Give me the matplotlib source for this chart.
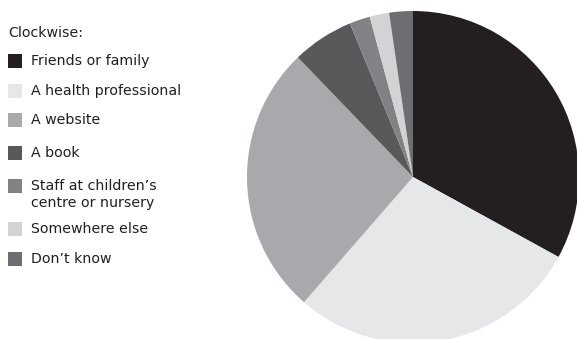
import matplotlib
matplotlib.use("Agg")
import matplotlib.pyplot as plt
from matplotlib.patches import Rectangle

# Share of responses, listed clockwise from 12 o'clock
categories = ["Friends or family", "A health professional", "A website", "A book",
              "Staff at children\u2019s\ncentre or nursery", "Somewhere else", "Don\u2019t know"]
shares = [33.0, 28.4, 26.4, 6.0, 2.0, 1.9, 2.3]
colors = ["#231f20", "#e6e7e8", "#a7a9ac", "#58595b", "#808285", "#d1d3d4", "#6d6e71"]

W, H = 577, 339
fig = plt.figure(figsize=(W / 100, H / 100), dpi=100)
ax = fig.add_axes([0, 0, 1, 1])

ax.pie(shares, colors=colors, startangle=90, counterclock=False,
       center=(413, H - 177), radius=166, frame=True,
       wedgeprops=dict(linewidth=0))
ax.set_xlim(0, W)
ax.set_ylim(0, H)
ax.axis("off")

font = dict(family="DejaVu Sans", fontsize=10.2, color="#231f20")
ax.text(8, H - 33, "Clockwise:", va="center", ha="left", **font)

# legend rows (y centres of the swatches, in pixel rows from the top)
rows = [61, 91, 120, 153, 186, 229, 259]
line_gap = 17
for label, col, y in zip(categories, colors, rows):
    ax.add_patch(Rectangle((8, H - y - 7), 14, 14, facecolor=col, edgecolor="none"))
    for i, part in enumerate(label.split("\n")):
        ax.text(31, H - y - i * line_gap, part, va="center", ha="left", **font)

fig.savefig("out.png", dpi=100)
